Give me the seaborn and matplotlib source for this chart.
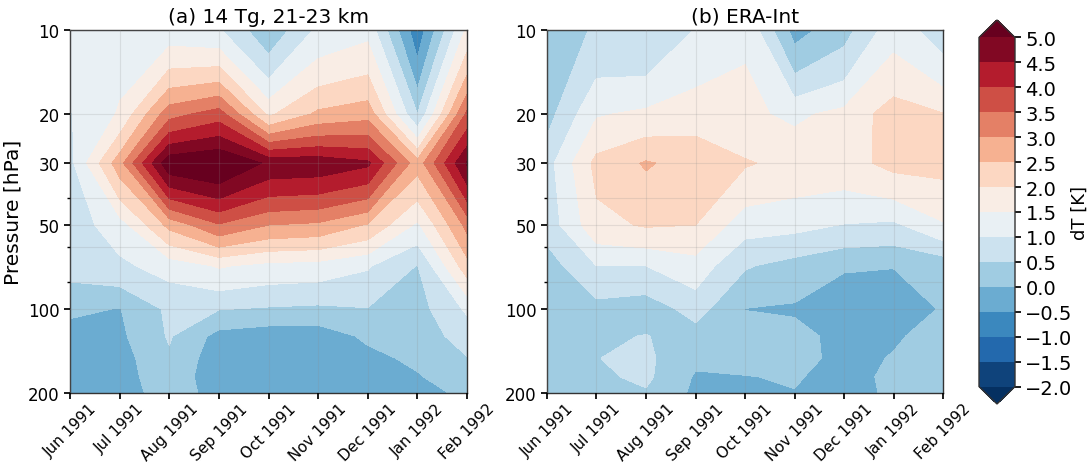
import numpy as np
import matplotlib
matplotlib.use("Agg")
import matplotlib.pyplot as plt
from matplotlib.ticker import FixedLocator, FixedFormatter, LogLocator, NullFormatter
import seaborn as sns

months = ["Jun 1991", "Jul 1991", "Aug 1991", "Sep 1991", "Oct 1991",
          "Nov 1991", "Dec 1991", "Jan 1992", "Feb 1992"]
pressure_hpa = [10, 20, 30, 50, 70, 100, 125, 150, 175, 200]
pressure_ticks = [10, 20, 30, 50, 100, 200]
dT_levels = np.arange(-2.0, 5.01, 0.5)

# temperature anomaly [K]: one row per pressure level, one column per month
dT_14tg = [
    [1.30, 1.30, 1.20, 1.05, 0.10, 1.10, 1.35, -0.85, 1.60],    # 10 hPa
    [0.97, 1.55, 3.30, 3.74, 1.90, 2.60, 2.80, 0.50, 3.60],     # 20 hPa
    [0.85, 2.80, 5.40, 5.60, 4.90, 4.85, 4.60, 2.70, 5.05],     # 30 hPa
    [0.75, 1.25, 2.65, 3.45, 3.00, 2.90, 2.45, 1.40, 3.15],     # 50 hPa
    [0.70, 0.90, 1.20, 1.55, 1.35, 1.30, 1.05, 0.48, 2.30],     # 70 hPa
    [0.10, -0.02, 0.60, 0.52, 0.45, 0.40, 0.48, 0.30, 1.08],    # 100 hPa
    [-0.20, -0.10, 0.55, -0.17, -0.30, -0.30, 0.10, 0.25, 0.70],  # 125 hPa
    [-0.25, -0.20, 0.42, -0.30, -0.40, -0.40, -0.15, 0.12, 0.48],  # 150 hPa
    [-0.30, -0.20, 0.30, -0.30, -0.40, -0.40, -0.25, -0.05, 0.35],  # 175 hPa
    [-0.30, -0.30, 0.30, -0.22, -0.35, -0.35, -0.30, -0.20, 0.12],  # 200 hPa
]

dT_era = [
    [0.15, 0.57, 0.48, 1.02, 1.45, -0.20, 0.30, 1.30, 0.70],    # 10 hPa
    [0.30, 1.45, 1.60, 1.80, 1.60, 1.40, 1.64, 2.25, 2.02],     # 20 hPa
    [0.80, 2.15, 2.55, 2.30, 2.05, 1.84, 1.80, 2.15, 2.15],     # 30 hPa
    [0.70, 1.85, 2.05, 2.00, 1.20, 1.15, 0.98, 0.90, 1.45],     # 50 hPa
    [0.26, 1.00, 1.00, 1.29, 0.55, 0.30, 0.05, 0.02, 0.15],     # 70 hPa
    [0.20, 0.32, 0.20, 0.71, -0.01, -0.06, -0.30, -0.35, 0.05],  # 100 hPa
    [0.25, 0.41, 0.52, 0.27, 0.20, 0.15, -0.15, -0.10, 0.30],   # 125 hPa
    [0.25, 0.49, 0.60, 0.10, 0.20, 0.30, -0.25, 0.05, 0.35],    # 150 hPa
    [0.25, 0.41, 0.60, -0.05, -0.02, 0.05, -0.20, 0.12, 0.30],  # 175 hPa
    [0.25, 0.30, 0.45, -0.10, -0.10, -0.02, -0.20, 0.09, 0.25],  # 200 hPa
]

sns.set_theme(style="ticks")
plt.rcParams.update({
    "font.family": ["DejaVu Sans"],
    "text.color": "black",
    "axes.labelcolor": "black",
    "axes.edgecolor": "0.2",
    "axes.linewidth": 1.0,
    "xtick.color": "black",
    "ytick.color": "black",
    "xtick.major.size": 4,
    "ytick.major.size": 4,
    "ytick.minor.size": 2.5,
})
cmap = sns.color_palette("RdBu_r", as_cmap=True)

fig = plt.figure(figsize=(10.9, 4.64), dpi=100)
W, H = 1090, 464
ax_a = fig.add_axes([70 / W, 1 - 394 / H, 397 / W, 363 / H])
ax_b = fig.add_axes([547 / W, 1 - 394 / H, 396 / W, 363 / H])
cax = fig.add_axes([979 / W, 1 - 405 / H, 36 / W, 384 / H])

x = np.arange(len(months))
panels = [(ax_a, dT_14tg, "(a) 14 Tg, 21-23 km"), (ax_b, dT_era, "(b) ERA-Int")]
for ax, values, title in panels:
    cs = ax.contourf(x, pressure_hpa, np.array(values), levels=dT_levels,
                     cmap=cmap, extend="both")
    ax.set_yscale("log")
    ax.set_ylim(max(pressure_hpa), min(pressure_hpa))
    ax.set_xlim(x[0], x[-1])
    ax.yaxis.set_major_locator(FixedLocator(pressure_ticks))
    ax.yaxis.set_major_formatter(FixedFormatter([str(p) for p in pressure_ticks]))
    ax.yaxis.set_minor_locator(LogLocator(base=10, subs=(2, 4, 6, 8), numticks=12))
    ax.yaxis.set_minor_formatter(NullFormatter())
    ax.set_xticks(x)
    ax.set_xticklabels(months, rotation=45)
    ax.tick_params(axis="y", which="major", labelsize=12)
    ax.tick_params(axis="x", which="major", labelsize=11, pad=1.5)
    ax.grid(True, which="both", color="0.55", alpha=0.2, linewidth=0.8)
    ax.set_axisbelow(False)
    ax.set_title(title, fontsize=14.5)

ax_a.set_ylabel("Pressure [hPa]", fontsize=14.5)

cb = fig.colorbar(cs, cax=cax, ticks=dT_levels)
cb.ax.tick_params(labelsize=14)
cb.set_label("dT [K]", fontsize=13)
cb.ax.yaxis.set_label_coords(2.55, 0.5)

fig.savefig("out.png", dpi=100)
